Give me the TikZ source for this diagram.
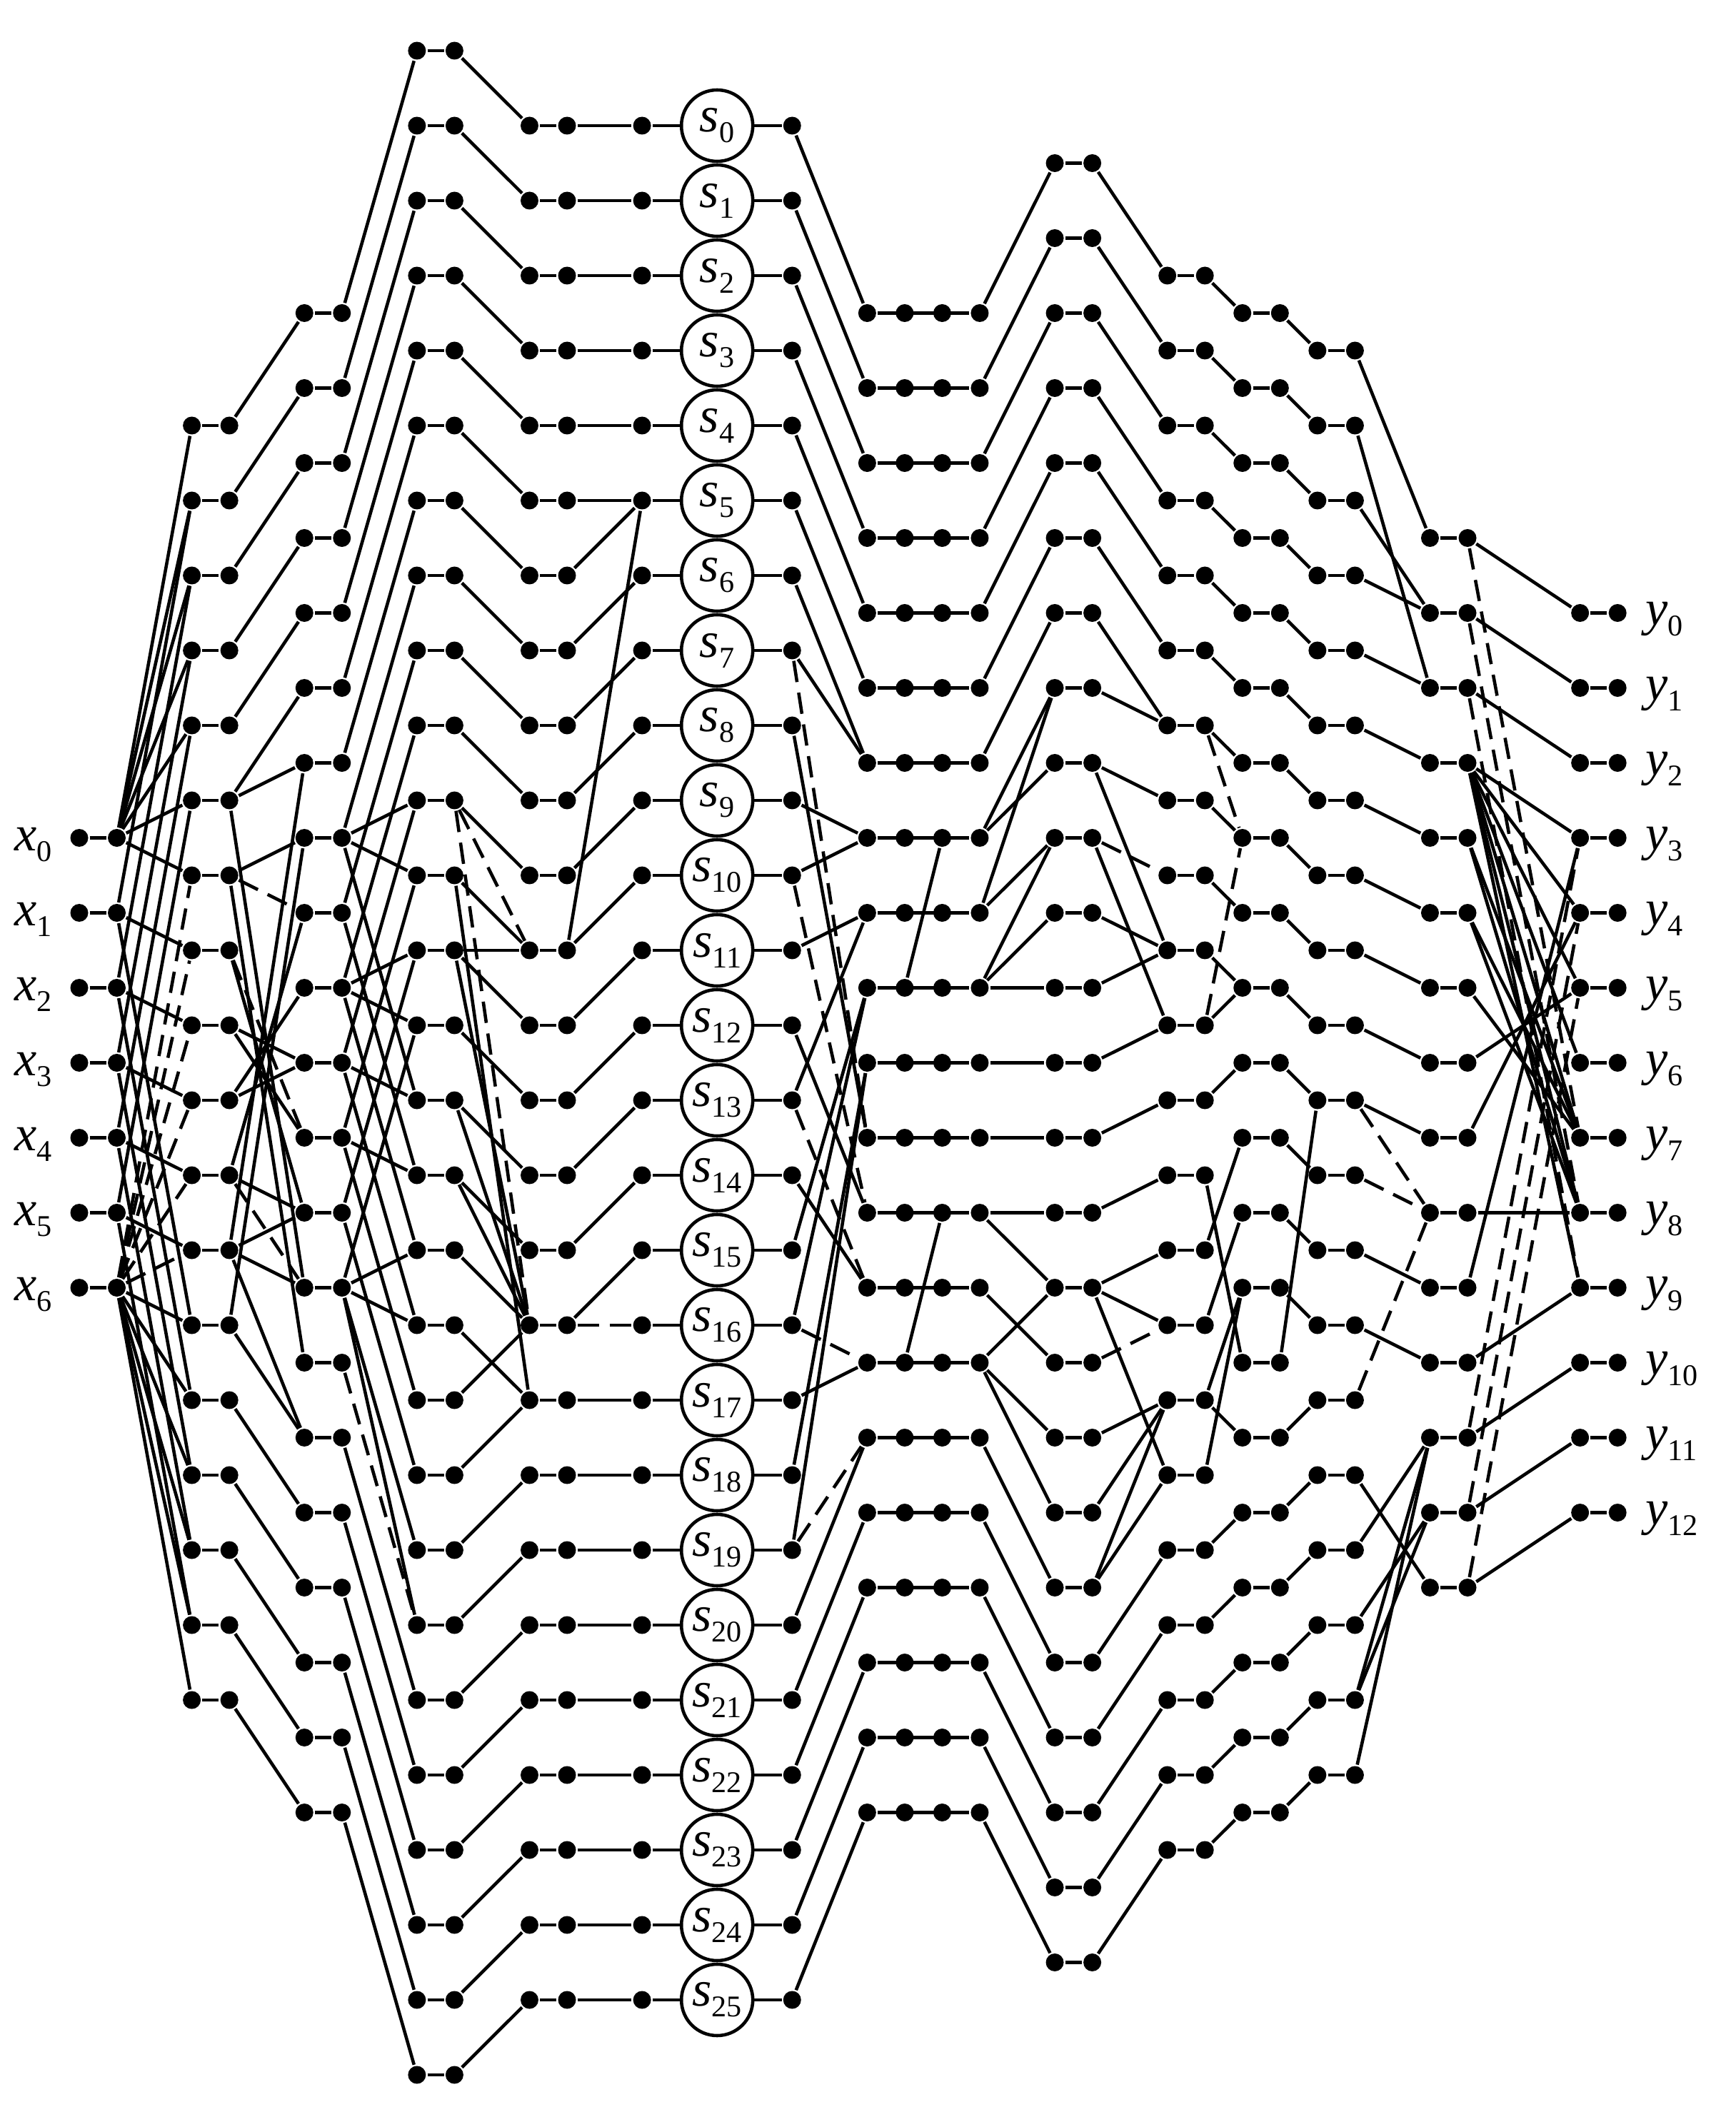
\documentclass[tikz,border=0pt]{standalone}
\usepackage{fontspec}
\setmainfont{Liberation Serif}
\newfontfamily\lf{Liberation Serif}
\newcommand\Dt[2]{\node[dot] (n#1-#2) at ({1.11+0.5254*#1},{-0.71-0.525*#2}) {};}
\newcommand\lb[2]{{\lf\itshape #1}\raisebox{-0.15cm}{\lf\fontsize{12}{12}\selectfont #2}}
\newcommand\EL[1]{\foreach \p/\q in {#1}{\draw (\p) -- (\q);}}
\newcommand\DL[1]{\foreach \p/\q in {#1}{\draw[dsh] (\p) -- (\q);}}
\begin{document}
\begin{tikzpicture}[line width=1.3pt,
  dot/.style={circle,fill=black,draw=none,inner sep=0pt,minimum size=0.25cm},
  scirc/.style={circle,draw=black,fill=white,line width=1.3pt,minimum size=1.0cm,inner sep=0pt,font=\fontsize{20}{20}\selectfont},
  lab/.style={font=\fontsize{20}{20}\selectfont,inner sep=0pt},
  dsh/.style={dash pattern=on 0.3cm off 0.15cm}]
\useasboundingbox (0,0) rectangle (24.31,-29.65);
% ---------- dots ----------
\foreach \r in {21,23,...,33}{\Dt{0}{\r}\Dt{1}{\r}\draw (n0-\r) -- (n1-\r);}
\foreach \r in {10,12,...,44}{\Dt{3}{\r}\Dt{4}{\r}\draw (n3-\r) -- (n4-\r);}
\foreach \r in {7,9,...,47}{\Dt{6}{\r}\Dt{7}{\r}\draw (n6-\r) -- (n7-\r);}
\foreach \r in {0,2,...,54}{\Dt{9}{\r}\Dt{10}{\r}\draw (n9-\r) -- (n10-\r);}
\foreach \r in {2,4,...,52}{\Dt{12}{\r}\Dt{13}{\r}\Dt{15}{\r}\Dt{19}{\r}\draw (n12-\r) -- (n13-\r);}
\foreach \r in {7,9,...,47}{\Dt{21}{\r}\Dt{22}{\r}\Dt{23}{\r}\Dt{24}{\r}\draw (n21-\r) -- (n24-\r);}
\foreach \r in {3,5,...,51}{\Dt{26}{\r}\Dt{27}{\r}\draw (n26-\r) -- (n27-\r);}
\foreach \r in {6,8,...,48}{\Dt{29}{\r}\Dt{30}{\r}\draw (n29-\r) -- (n30-\r);}
\foreach \r in {7,9,...,47}{\Dt{31}{\r}\Dt{32}{\r}\draw (n31-\r) -- (n32-\r);}
\foreach \r in {8,10,...,46}{\Dt{33}{\r}\Dt{34}{\r}\draw (n33-\r) -- (n34-\r);}
\foreach \r in {13,15,...,41}{\Dt{36}{\r}\Dt{37}{\r}\draw (n36-\r) -- (n37-\r);}
\foreach \r in {15,17,...,39}{\Dt{40}{\r}\Dt{41}{\r}\draw (n40-\r) -- (n41-\r);}
% ---------- s circles ----------
\foreach \k in {0,...,25}{
  \pgfmathtruncatemacro\rr{2*\k+2}
  \node[scirc] (s\k) at ({1.11+0.5254*17},{-0.71-0.525*\rr}) {\lb{s}{\k}};
  \draw (n15-\rr) -- (s\k) -- (n19-\rr);
}
% ---------- labels ----------
\foreach \k in {0,...,6}{
  \pgfmathtruncatemacro\rr{2*\k+21}
  \node[lab,anchor=base east] (xl\k) at (0.75,{-0.71-0.525*\rr-0.18}) {\lb{x}{\k}};
}
\foreach \k in {0,...,12}{
  \pgfmathtruncatemacro\rr{2*\k+15}
  \node[lab,anchor=base west] (yl\k) at (23.02,{-0.71-0.525*\rr-0.17}) {\lb{y}{\k}};
}
% ---------- X -> A ----------
\EL{n1-21/n3-10,n1-21/n3-12,n1-21/n3-14,n1-21/n3-16,n1-21/n3-18,n1-21/n3-20,n1-21/n3-22}
\EL{n1-23/n3-12,n1-23/n3-24,n1-23/n3-34,n1-25/n3-14,n1-25/n3-26,n1-25/n3-36,n1-27/n3-16,n1-27/n3-28,n1-27/n3-38}
\EL{n1-29/n3-18,n1-29/n3-30,n1-29/n3-40,n1-31/n3-20,n1-31/n3-32,n1-31/n3-42}
\EL{n1-33/n3-34,n1-33/n3-36,n1-33/n3-38,n1-33/n3-40,n1-33/n3-42,n1-33/n3-44}
\DL{n1-33/n3-22,n1-33/n3-24,n1-33/n3-26,n1-33/n3-28,n1-33/n3-30,n1-33/n3-32}
% ---------- A -> B ----------
\EL{n4-10/n6-7,n4-12/n6-9,n4-14/n6-11,n4-16/n6-13,n4-18/n6-15,n4-20/n6-17,n4-20/n6-19,n4-32/n6-19,n4-22/n6-21,n4-34/n6-21}
\DL{n4-22/n6-23,n4-24/n6-29,n4-30/n6-33}
\EL{n4-30/n6-23,n4-28/n6-25,n4-26/n6-27,n4-28/n6-27,n4-26/n6-29,n4-30/n6-31,n4-32/n6-31,n4-24/n6-31,n4-32/n6-33,n4-20/n6-33,n4-22/n6-35,n4-34/n6-37,n4-32/n6-37}
\EL{n4-36/n6-39,n4-38/n6-41,n4-40/n6-43,n4-42/n6-45,n4-44/n6-47}
% ---------- B -> C ----------
\foreach \b in {7,9,...,33}{\pgfmathtruncatemacro\c{\b-7}\draw (n7-\b) -- (n9-\c);}
\foreach \b in {21,23,...,33,37,39,...,47}{\pgfmathtruncatemacro\c{\b+7}\draw (n7-\b) -- (n9-\c);}
\DL{n7-35/n9-42}
\EL{n7-33/n9-42}
\EL{n7-21/n9-20,n7-21/n9-22,n7-25/n9-24,n7-25/n9-26,n7-27/n9-28,n7-29/n9-30,n7-33/n9-32,n7-33/n9-34}
% ---------- C -> D ----------
\foreach \c in {0,2,...,32}{\pgfmathtruncatemacro\d{\c+2}\draw (n10-\c) -- (n12-\d);}
\foreach \c in {40,42,...,54}{\pgfmathtruncatemacro\d{\c-2}\draw (n10-\c) -- (n12-\d);}
\EL{n10-34/n12-36,n10-38/n12-36,n10-36/n12-34,n10-28/n12-34,n10-30/n12-34,n10-24/n12-34,n10-24/n12-24,n10-22/n12-36}
\DL{n10-20/n12-24,n10-20/n12-34}
% ---------- D -> E ----------
\EL{n13-2/n15-2,n13-4/n15-4,n13-6/n15-6,n13-8/n15-8,n13-10/n15-10,n13-12/n15-12,n13-24/n15-12}
\foreach \d in {14,16,...,34}{\pgfmathtruncatemacro\e{\d-2}\draw (n13-\d) -- (n15-\e);}
\DL{n13-34/n15-34}
\foreach \d in {36,38,...,52}{\draw (n13-\d) -- (n15-\d);}
% ---------- R -> F ----------
\EL{n19-2/n21-7,n19-4/n21-9,n19-6/n21-11,n19-8/n21-13,n19-10/n21-15,n19-12/n21-17,n19-14/n21-19,n19-16/n21-19,n19-20/n21-21,n19-22/n21-21}
\EL{n19-24/n21-23,n19-28/n21-23,n19-32/n21-25,n19-34/n21-25,n19-38/n21-27,n19-40/n21-27,n19-18/n21-29,n19-26/n21-31,n19-30/n21-33,n19-36/n21-35,n19-42/n21-37}
\DL{n19-16/n21-29,n19-22/n21-31,n19-28/n21-33,n19-34/n21-35,n19-40/n21-37}
\EL{n19-44/n21-39,n19-46/n21-41,n19-48/n21-43,n19-50/n21-45,n19-52/n21-47}
\EL{n23-21/n22-25,n23-31/n22-35}
% ---------- F -> G ----------
\EL{n24-7/n26-3,n24-9/n26-5,n24-11/n26-7,n24-13/n26-9,n24-15/n26-11,n24-17/n26-13,n24-19/n26-15}
\EL{n24-21/n26-17,n24-21/n26-19,n24-23/n26-17,n24-23/n26-21,n24-25/n26-21,n24-25/n26-23,n24-25/n26-25}
\EL{n24-27/n26-27,n24-29/n26-29,n24-31/n26-31,n24-31/n26-33,n24-33/n26-35,n24-35/n26-33,n24-35/n26-37,n24-35/n26-39}
\EL{n24-37/n26-41,n24-39/n26-43,n24-41/n26-45,n24-43/n26-47,n24-45/n26-49,n24-47/n26-51}
% ---------- G -> H ----------
\EL{n27-3/n29-6,n27-5/n29-8,n27-7/n29-10,n27-9/n29-12,n27-11/n29-14,n27-13/n29-16,n27-15/n29-18,n27-17/n29-18}
\EL{n27-19/n29-20,n27-19/n29-24,n27-21/n29-26,n27-23/n29-24,n27-25/n29-24,n27-27/n29-26}
\DL{n27-21/n29-22,n27-35/n29-34}
\EL{n27-29/n29-28,n27-31/n29-30,n27-33/n29-32,n27-33/n29-34,n27-33/n29-38,n27-37/n29-36,n27-39/n29-36,n27-41/n29-36}
\EL{n27-41/n29-38,n27-43/n29-40,n27-45/n29-42,n27-47/n29-44,n27-49/n29-46,n27-51/n29-48}
% ---------- H2 -> H3 ----------
\EL{n30-6/n31-7,n30-8/n31-9,n30-10/n31-11,n30-12/n31-13,n30-14/n31-15,n30-16/n31-17,n30-18/n31-19,n30-20/n31-21}
\DL{n30-18/n31-21,n30-26/n31-21}
\EL{n30-22/n31-23,n30-24/n31-25,n30-26/n31-25,n30-28/n31-27,n30-32/n31-29,n30-30/n31-35,n30-34/n31-31,n30-36/n31-33,n30-36/n31-37,n30-38/n31-33,n30-40/n31-39}
\EL{n30-42/n31-41,n30-44/n31-43,n30-46/n31-45,n30-48/n31-47}
% ---------- H4 -> I ----------
\foreach \b in {7,9,...,33}{\pgfmathtruncatemacro\c{\b+1}\draw (n32-\b) -- (n33-\c);}
\EL{n32-35/n33-28}
\foreach \b in {37,39,...,47}{\pgfmathtruncatemacro\c{\b-1}\draw (n32-\b) -- (n33-\c);}
% ---------- I -> J ----------
\EL{n34-8/n36-13,n34-10/n36-17,n34-12/n36-15,n34-14/n36-15,n34-16/n36-17}
\EL{n34-18/n36-19,n34-20/n36-21,n34-22/n36-23,n34-24/n36-25,n34-26/n36-27,n34-28/n36-29,n34-32/n36-33,n34-34/n36-35}
\DL{n34-28/n36-31,n34-30/n36-31,n34-36/n36-31}
\EL{n34-38/n36-41,n34-40/n36-37,n34-42/n36-39,n34-44/n36-39,n34-44/n36-37,n34-46/n36-37}
% ---------- J -> K ----------
\EL{n37-13/n40-15,n37-15/n40-17,n37-17/n40-19}
\EL{n37-19/n40-21,n37-19/n40-23,n37-19/n40-25,n37-19/n40-27,n37-19/n40-29,n37-19/n40-31,n37-19/n40-33}
\EL{n37-21/n40-29,n37-21/n40-31,n37-23/n40-29,n37-23/n40-31,n37-25/n40-29,n37-27/n40-25}
\EL{n37-29/n40-23,n37-31/n40-31,n37-33/n40-21,n37-35/n40-33,n37-37/n40-35,n37-39/n40-37,n37-41/n40-39}
\DL{n37-13/n40-29,n37-15/n40-31,n37-17/n40-33,n37-37/n40-21,n37-39/n40-23,n37-41/n40-25}
\end{tikzpicture}
\end{document}
